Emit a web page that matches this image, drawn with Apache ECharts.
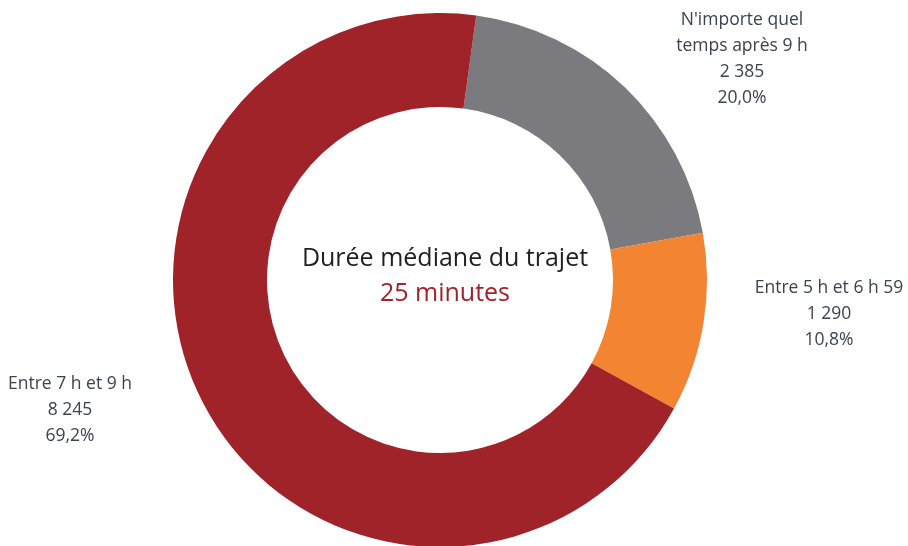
<!DOCTYPE html>
<html><head><meta charset="utf-8">
<script src="https://cdn.jsdelivr.net/npm/echarts@6/dist/echarts.min.js"></script>
<style>html,body{margin:0;padding:0;background:#fff}#c{width:908px;height:546px}</style>
</head><body><div id="c"></div>
<script>
const categories = ["N'importe quel\ntemps après 9 h", "Entre 5 h et 6 h 59", "Entre 7 h et 9 h"];
const counts = [2385, 1290, 8245];
const percents = ["20,0%", "10,8%", "69,2%"];
const centerTitle = "Durée médiane du trajet";
const centerValue = "25 minutes";

const colors = ['#7A7A7F', '#F28432', '#A0232A'];
const labelPos = [[742, 59], [829, 314], [70, 410]];

function fmtNum(v){ return String(v).replace(/\B(?=(\d{3})+(?!\d))/g, ' '); }

const chart = echarts.init(document.getElementById('c'), null, {renderer:'canvas'});
chart.setOption({
  animation: false,
  backgroundColor: '#fff',
  title: {
    text: '{a|' + centerTitle + '}\n{b|' + centerValue + '}',
    left: 440, top: 236, textAlign: 'center',
    textStyle: {
      rich: {
        a: {fontFamily: 'Open Sans', fontSize: 25, fontWeight: 'normal', color: '#1f1f1f', lineHeight: 35},
        b: {fontFamily: 'Open Sans', fontSize: 25, fontWeight: 'normal', color: '#A0232A', lineHeight: 35}
      }
    }
  },
  series: [{
    type: 'pie',
    center: [440, 280],
    radius: [173, 267],
    startAngle: 82.2,
    clockwise: true,
    silent: true,
    label: {
      show: true, position: 'outside', overflow: 'none', edgeDistance: 0,
      fontFamily: 'Open Sans', fontSize: 17.5, color: '#3A4350', lineHeight: 26,
      align: 'center',
      formatter: p => p.name + '\n' + fmtNum(p.value) + '\n' + percents[p.dataIndex]
    },
    labelLine: {show: false},
    labelLayout: p => ({x: labelPos[p.dataIndex][0], y: labelPos[p.dataIndex][1], align: 'center', verticalAlign: 'middle'}),
    data: categories.map((c, i) => ({name: c, value: counts[i], itemStyle: {color: colors[i]}}))
  }]
});
</script></body></html>
